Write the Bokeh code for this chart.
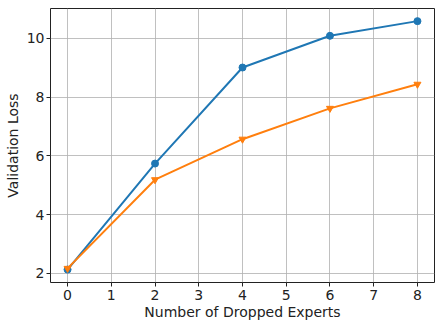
from bokeh.plotting import figure
from bokeh.embed import file_html
from bokeh.resources import INLINE
from bokeh.models import Range1d, FixedTicker

dropped = [0, 2, 4, 6, 8]
series_a = [2.13, 5.74, 9.01, 10.09, 10.59]
series_b = [2.17, 5.19, 6.57, 7.62, 8.44]
x_ticks = [0, 1, 2, 3, 4, 5, 6, 7, 8]
y_ticks = [2, 4, 6, 8, 10]

p = figure(width=435, height=322, output_backend="svg", toolbar_location=None,
           x_range=Range1d(-0.39, 8.39), y_range=Range1d(1.69, 11.02),
           min_border_left=50, min_border_right=1, min_border_top=8, min_border_bottom=39)
p.background_fill_color = "white"
p.border_fill_color = "white"
p.outline_line_color = "#222222"
p.outline_line_width = 1

p.line(dropped, series_a, line_color="#1f77b4", line_width=2)
p.scatter(dropped, series_a, marker="circle", size=7, fill_color="#1f77b4", line_color="#1f77b4")
p.line(dropped, series_b, line_color="#ff7f0e", line_width=2)
p.scatter(dropped, series_b, marker="inverted_triangle", size=7, fill_color="#ff7f0e", line_color="#ff7f0e")

for ax in (p.xaxis[0], p.yaxis[0]):
    ax.axis_line_color = None
    ax.major_tick_out = 4
    ax.major_tick_in = 0
    ax.minor_tick_line_color = None
    ax.major_tick_line_color = "#222222"
    ax.major_label_text_font = "DejaVu Sans"
    ax.major_label_text_font_size = "14px"
    ax.major_label_text_color = "#222222"
    ax.axis_label_text_font = "DejaVu Sans"
    ax.axis_label_text_font_size = "14px"
    ax.axis_label_text_font_style = "normal"
    ax.axis_label_text_color = "#222222"

p.xaxis.ticker = FixedTicker(ticks=x_ticks)
p.yaxis.ticker = FixedTicker(ticks=y_ticks)
p.xaxis.axis_label = "Number of Dropped Experts"
p.yaxis.axis_label = "Validation Loss"
p.xaxis.axis_label_standoff = 1
p.yaxis.axis_label_standoff = 3
p.xaxis.major_label_standoff = 3
p.yaxis.major_label_standoff = 2

p.grid.grid_line_color = "#b0b0b0"
p.grid.grid_line_width = 1
p.grid.grid_line_alpha = 0.8

open("out.html", "w").write(file_html(p, INLINE))
